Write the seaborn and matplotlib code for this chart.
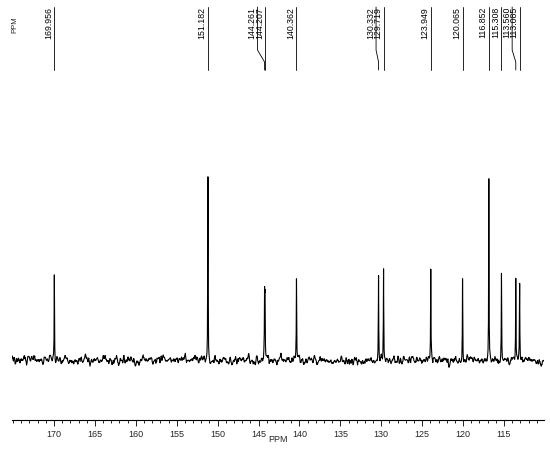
import numpy as np
import pandas as pd
import matplotlib
matplotlib.use("Agg")
import matplotlib.pyplot as plt
import seaborn as sns

# 13C NMR peak list (ppm) and relative peak heights
peak_ppm = [169.956, 151.182, 144.261, 144.207, 140.362, 130.332, 129.719,
            123.949, 120.065, 116.852, 115.308, 113.560, 113.085]
peak_height = [0.46, 1.00, 0.32, 0.32, 0.42, 0.45, 0.47,
               0.48, 0.44, 0.99, 0.46, 0.44, 0.43]
peak_labels = ["169.956", "151.182", "144.261", "144.207", "140.362", "130.332",
               "129.719", "123.949", "120.065", "116.852", "115.308", "113.560",
               "113.085"]
tick_major = [170, 165, 160, 155, 150, 145, 140, 135, 130, 125, 120, 115]

sns.set_style("white")
plt.rcParams['font.family'] = ['Liberation Sans', 'DejaVu Sans']

W, H = 550, 451
fig = plt.figure(figsize=(W / 100, H / 100), dpi=100)

# spectrum trace: lorentzian line shapes at the listed peaks + baseline noise
ppm = np.concatenate([np.arange(109.5, 176.0, 0.05), peak_ppm])
ppm = np.sort(ppm)
gamma = 0.025
inten = np.zeros_like(ppm)
for p, h in zip(peak_ppm, peak_height):
    inten += h / (1 + ((ppm - p) / gamma) ** 2)
rng = np.random.default_rng(7)
noise = np.convolve(rng.normal(0, 1, len(ppm)), np.ones(3) / 3, mode="same")
inten += noise * 0.02
spec = pd.DataFrame({"ppm": ppm, "intensity": inten})

x_left, x_right = 175.13, 110.11
ax = fig.add_axes([12 / W, (H - 420) / H, 532 / W, 348 / H])
sns.lineplot(data=spec, x="ppm", y="intensity", ax=ax, color="black",
             linewidth=0.8, estimator=None)
ax.set_xlim(x_left, x_right)
ax.set_ylim(-60 / 185, 288 / 185)
for s in ["top", "left", "right"]:
    ax.spines[s].set_visible(False)
ax.spines["bottom"].set_linewidth(0.8)
ax.spines["bottom"].set_color("black")
ax.set_yticks([])
ax.set_ylabel("")
ax.set_xticks(tick_major)
ax.set_xticks(np.arange(111, 176, 1), minor=True)
ax.tick_params(axis="x", which="major", direction="out", length=4, width=0.6,
               labelsize=6.5, pad=3, bottom=True, color="black")
ax.tick_params(axis="x", which="minor", direction="out", length=2, width=0.6,
               bottom=True, color="black")
ax.set_xlabel("PPM", fontsize=6.5, labelpad=-3)

# peak label strip on top
lab = fig.add_axes([12 / W, (H - 72) / H, 532 / W, 72 / H], sharex=ax)
lab.set_ylim(72, 0)
lab.axis("off")

# spread crowded labels apart: merge neighbouring groups until no overlap,
# the rightmost label of a group stays over its peak
ppm_per_px = (x_left - x_right) / 532
sep = 7.5 * ppm_per_px
groups = [[i] for i in range(len(peak_ppm))]


def place(g):
    last = peak_ppm[g[-1]]
    return [last + sep * (len(g) - 1 - k) for k in range(len(g))]


merged = True
while merged:
    merged = False
    for j in range(len(groups) - 1):
        if place(groups[j])[-1] - place(groups[j + 1])[0] < sep - 1e-9:
            groups[j] = groups[j] + groups[j + 1]
            del groups[j + 1]
            merged = True
            break
pos = []
for g in groups:
    pos += place(g)

for p, lx, t in zip(peak_ppm, pos, peak_labels):
    if abs(lx - p) < 1e-6:
        lab.plot([p, p], [7, 70], color="black", lw=0.6)
    else:
        lab.plot([lx, lx, p, p], [7, 50, 62, 70], color="black", lw=0.6)
    lab.text(lx + 1.2 * ppm_per_px, 7, t, rotation=90, ha="right", va="top",
             fontsize=6.3, color="black")

fig.text(15 / W, 1 - 25 / H, "PPM", rotation=90, ha="center", va="center",
         fontsize=5.5)

fig.savefig("out.png", dpi=100)
